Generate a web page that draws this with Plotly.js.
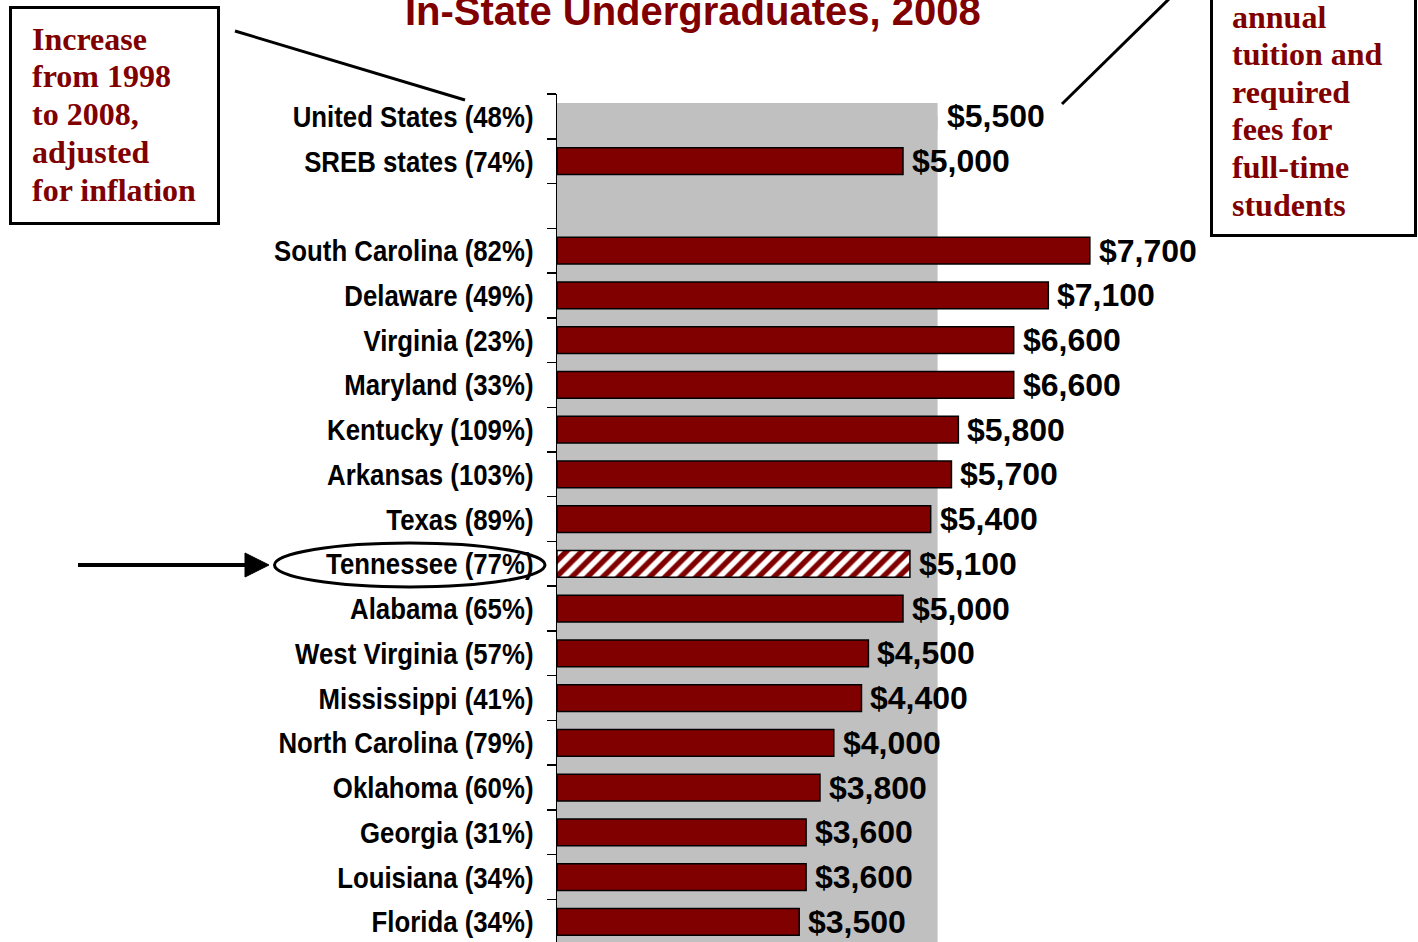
<!DOCTYPE html>
<html>
<head>
<meta charset="utf-8">
<script src="https://cdn.plot.ly/plotly-3.0.1.min.js"></script>
<style>html,body{margin:0;padding:0;background:#fff;overflow:hidden}</style>
</head>
<body>
<div id="chart" style="width:1418px;height:942px"></div>
<script>
// ---- data ----
const categories = [
  'United States (48%)', 'SREB states (74%)', ' ',
  'South Carolina (82%)', 'Delaware (49%)', 'Virginia (23%)', 'Maryland (33%)',
  'Kentucky (109%)', 'Arkansas (103%)', 'Texas (89%)', 'Tennessee (77%)',
  'Alabama (65%)', 'West Virginia (57%)', 'Mississippi (41%)', 'North Carolina (79%)',
  'Oklahoma (60%)', 'Georgia (31%)', 'Louisiana (34%)', 'Florida (34%)'
];
const tuition = [
  5500, 5000, null,
  7700, 7100, 6600, 6600,
  5800, 5700, 5400, 5100,
  5000, 4500, 4400, 4000,
  3800, 3600, 3600, 3500
];
const nationCategory = 'United States (48%)';
const highlightCategory = 'Tennessee (77%)';
const titleText = 'In-State Undergraduates, 2008';
const leftNote = ['Increase', 'from 1998', 'to 2008,', 'adjusted', 'for inflation'];
const rightNote = ['annual', 'tuition and', 'required', 'fees for', 'full-time', 'students'];

// ---- layout helpers ----
const L = 557, W = 861, T = 94, H = 848;
const px = p => (p - L) / W;
const py = p => (T + H - p) / H;
const MAROON = '#800000';
const fmt = v => '$' + v.toLocaleString('en-US');

const natIdx = categories.indexOf(nationCategory);
const hiIdx = categories.indexOf(highlightCategory);

const mainY = [], mainX = [];
categories.forEach((c, i) => {
  if (i !== natIdx && i !== hiIdx && tuition[i] != null) { mainY.push(c); mainX.push(tuition[i]); }
});

const barW = 0.6;
const traces = [
  { type: 'bar', orientation: 'h', y: [categories[natIdx]], x: [tuition[natIdx]], width: barW,
    marker: { color: '#C0C0C0', line: { width: 0 } }, hoverinfo: 'skip' },
  { type: 'bar', orientation: 'h', y: mainY, x: mainX, width: barW,
    marker: { color: MAROON, line: { color: '#000', width: 1.5 } }, hoverinfo: 'skip' },
  { type: 'bar', orientation: 'h', y: [categories[hiIdx]], x: [tuition[hiIdx]], width: barW,
    marker: { color: 'white', line: { color: '#000', width: 1.5 },
      pattern: { shape: '/', fgcolor: MAROON, bgcolor: 'white', size: 11, solidity: 0.5 } },
    hoverinfo: 'skip' }
];

const annotations = [];
categories.forEach((c, i) => {
  if (tuition[i] == null) return;
  annotations.push({ x: tuition[i], y: c, xref: 'x', yref: 'y', text: fmt(tuition[i]),
    showarrow: false, xanchor: 'left', yanchor: 'middle', xshift: 7,
    font: { family: 'Liberation Sans, Arial', size: 32, weight: 'bold', color: '#000' } });
});
annotations.push({ xref: 'paper', yref: 'paper', x: px(693), y: py(11), text: titleText,
  showarrow: false, xanchor: 'center', yanchor: 'middle',
  font: { family: 'Liberation Sans, Arial', size: 40, weight: 'bold', color: MAROON } });

const noteFont = { family: 'Liberation Serif, Times New Roman', size: 32, weight: 'bold', color: MAROON };
const leftY = [40, 77, 115, 153, 191];
const rightY = [18, 55, 93, 130, 168, 206];
leftNote.forEach((t, i) => annotations.push({ xref: 'paper', yref: 'paper', x: px(30), y: py(leftY[i] - 1),
  text: t, showarrow: false, xanchor: 'left', yanchor: 'middle', font: noteFont }));
rightNote.forEach((t, i) => annotations.push({ xref: 'paper', yref: 'paper', x: px(1230), y: py(rightY[i] - 1),
  text: t, showarrow: false, xanchor: 'left', yanchor: 'middle', font: noteFont }));

const line = (x0, y0, x1, y1, w) => ({ type: 'line', xref: 'paper', yref: 'paper',
  x0: px(x0), y0: py(y0), x1: px(x1), y1: py(y1), line: { color: '#000', width: w } });

const shapes = [
  { type: 'rect', xref: 'x', yref: 'y', x0: 0, x1: tuition[natIdx], y0: natIdx, y1: categories.length + 1,
    fillcolor: '#C0C0C0', line: { width: 0 }, layer: 'below' },
  { type: 'rect', xref: 'paper', yref: 'paper', x0: px(10.5), x1: px(218.5), y0: py(7.5), y1: py(223.5),
    line: { color: '#000', width: 3 } },
  { type: 'rect', xref: 'paper', yref: 'paper', x0: px(1211.5), x1: px(1415.5), y0: py(-10), y1: py(235.5),
    line: { color: '#000', width: 3 } },
  line(235, 31, 465, 100, 3),
  line(1062, 104, 1170, -2, 3),
  { type: 'circle', xref: 'paper', yref: 'paper', x0: px(274.5), x1: px(545), y0: py(587), y1: py(543),
    line: { color: '#000', width: 3 } },
  line(78, 565, 248, 565, 4),
  { type: 'path', xref: 'paper', yref: 'paper',
    path: `M ${px(245)} ${py(553)} L ${px(269)} ${py(565)} L ${px(245)} ${py(577)} Z`,
    fillcolor: '#000', line: { color: '#000', width: 1 } }
];

const layout = {
  width: 1418, height: 942,
  margin: { l: L, r: 1418 - L - W, t: T, b: 942 - T - H },
  paper_bgcolor: 'white', plot_bgcolor: 'white',
  barmode: 'overlay', showlegend: false,
  xaxis: { visible: false, range: [0, W / 0.0692], fixedrange: true },
  yaxis: {
    type: 'category', categoryorder: 'array', categoryarray: categories,
    range: [18.45, -0.5], tickson: 'boundaries', ticks: 'outside', ticklen: 9,
    tickwidth: 1.5, tickcolor: '#000', showline: true, linecolor: '#000', linewidth: 1.5,
    showgrid: false, zeroline: false, ticklabelstandoff: 16,
    tickfont: { family: 'Liberation Sans Narrow, Arial Narrow, Liberation Sans', size: 30, weight: 'bold', color: '#000' }
  },
  shapes: shapes,
  annotations: annotations
};

// condense the category labels horizontally (narrow face, anchored at right end)
function condenseLabels(gd) {
  gd.querySelectorAll('.ytick text').forEach(el => {
    const x = parseFloat(el.getAttribute('x')) || 0;
    const base = el.getAttribute('data-base-transform');
    const orig = base !== null ? base : (el.getAttribute('transform') || '');
    el.setAttribute('data-base-transform', orig);
    el.setAttribute('transform', `${orig} translate(${x},0) scale(0.86,1) translate(${-x},0)`);
  });
}

Plotly.newPlot('chart', traces, layout, { staticPlot: true, displayModeBar: false })
  .then(gd => condenseLabels(gd));
</script>
</body>
</html>
